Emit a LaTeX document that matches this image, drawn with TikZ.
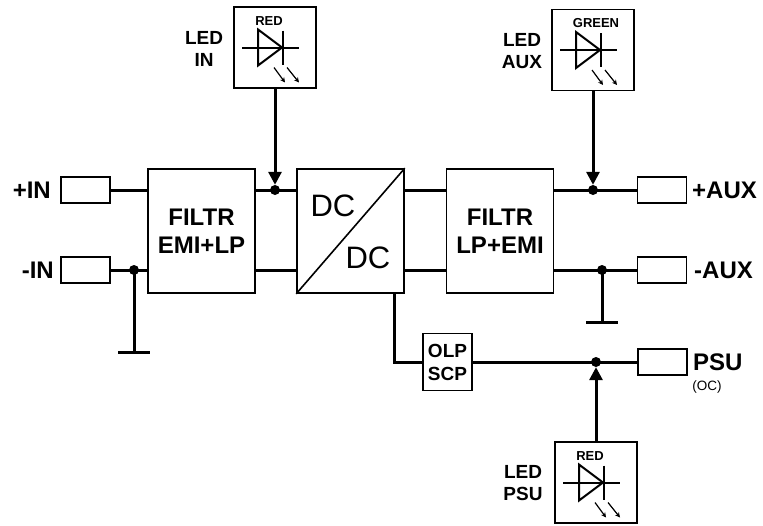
\documentclass[tikz,border=0pt]{standalone}
\usepackage{fontspec}
\setmainfont{Liberation Sans}
\usetikzlibrary{arrows.meta}
\tikzset{>=stealth}
\tikzset{
  block/.style={draw, line width=1.6pt, inner sep=0pt, minimum width=107pt, minimum height=124pt,
    align=center, font=\bfseries\fontsize{24}{28}\selectfont},
  term/.style={draw, line width=1.3pt, inner sep=0pt, minimum width=49pt, minimum height=26pt},
  ledbox/.style={draw, line width=1.6pt, inner sep=0pt, minimum width=82pt, minimum height=81pt},
  dot/.style={circle, fill, inner sep=0pt, minimum size=10pt},
  wire/.style={line width=3pt},
  sig/.style={line width=3pt, -{Triangle[length=13pt,width=13pt]}},
  lbl/.style={font=\bfseries\fontsize{24}{26}\selectfont, inner sep=0pt},
  ledlbl/.style={font=\bfseries\fontsize{19}{22}\selectfont, align=center, inner sep=0pt},
  led/.pic={
    \draw[line width=2pt] (-33,0) -- (24,0);
    \draw[line width=2pt] (-17,-18) -- (-17,18) -- (7,0) -- cycle;
    \draw[line width=2.4pt] (8,-17) -- (8,17);
    \draw[line width=1.2pt, -{Stealth[length=5pt,width=5pt]}] (-1,20) -- (10,35);
    \draw[line width=1.2pt, -{Stealth[length=5pt,width=5pt]}] (12,20) -- (24,35);
    \node[font=\bfseries\fontsize{13}{14}\selectfont, inner sep=0pt] at (#1) {\ledcolor};
  }
}
\newcommand{\ledcolor}{RED}

\begin{document}
\begin{tikzpicture}[x=1pt, y=-1pt]
    \useasboundingbox (0,0) rectangle (763,525);
    \node[block] (filt1) at (201.5,231) {FILTR\\EMI+LP};
    \node[block] (dcdc) at (350.5,231) {};
    \node[block] (filt2) at (500,231) {FILTR\\LP+EMI};
    \node[draw, line width=1.6pt, inner sep=0pt, minimum width=49pt, minimum height=57pt, align=center,
      font=\bfseries\fontsize{19}{23}\selectfont] (olp) at (447.5,362) {OLP\\SCP};
    \draw[line width=1.6pt] (dcdc.south west) -- (dcdc.north east);
    \node[font=\fontsize{31}{31}\selectfont, inner sep=0pt] (dcin) at (333,206) {DC};
    \node[font=\fontsize{31}{31}\selectfont, inner sep=0pt] (dcout) at (368,258) {DC};

    \node[term] (inP) at (85.5,190) {};
    \node[term] (inN) at (85.5,270) {};
    \node[term] (auxP) at (662,190) {};
    \node[term] (auxN) at (662,270) {};
    \node[term] (psu) at (662.5,362) {};
    \node[lbl, anchor=east] (tinP) at (51,190) {+IN};
    \node[lbl, anchor=east] (tinN) at (54,270) {-IN};
    \node[lbl, anchor=west] (tauxP) at (692,190) {+AUX};
    \node[lbl, anchor=west] (tauxN) at (694,270) {-AUX};
    \node[lbl, anchor=west] (tpsu) at (693,362) {PSU};
    \node[font=\fontsize{13.5}{14}\selectfont, inner sep=0pt] (toc) at (707,387) {(OC)};

    \node[dot] (jin) at (275,190) {};
    \node[dot] (jinN) at (134,270) {};
    \node[dot] (jaux) at (593,190) {};
    \node[dot] (jauxN) at (602,270) {};
    \node[dot] (jpsu) at (596,362) {};
    \coordinate (gin) at (134,352);
    \coordinate (gaux) at (602,322);
    \coordinate (dco) at (394,293);

    \node[ledbox] (ledin) at (275,47.5) {};
    \node[ledbox] (ledaux) at (593,50) {};
    \node[ledbox] (ledpsu) at (596,482.5) {};
    \pic at (ledin) {led={-6,-26}};
    \renewcommand{\ledcolor}{GREEN}
    \pic at (ledaux) {led={3,-27}};
    \renewcommand{\ledcolor}{RED}
    \pic at (ledpsu) {led={-6,-26}};
    \node[ledlbl] (tledin) at (204,49) {LED\\IN};
    \node[ledlbl] (tledaux) at (522,51) {LED\\AUX};
    \node[ledlbl] (tledpsu) at (523,483) {LED\\PSU};

    \draw[wire] (inP.east) -- (inP.east -| filt1.west);
    \draw[wire] (inN.east) -- (inN.east -| filt1.west);
    \draw[wire] (filt1.east |- jin) -- (jin.center) -- (jin -| dcdc.west);
    \draw[wire] (filt1.east |- inN) -- (dcdc.west |- inN);
    \draw[wire] (dcdc.east |- jin) -- (filt2.west |- jin);
    \draw[wire] (dcdc.east |- inN) -- (filt2.west |- inN);
    \draw[wire] (filt2.east |- jaux) -- (auxP.west);
    \draw[wire] (filt2.east |- jauxN) -- (auxN.west);
    \draw[wire] (jinN.center) -- (gin);
    \draw[wire] ([xshift=-16pt]gin) -- ([xshift=16pt]gin);
    \draw[wire] (jauxN.center) -- (gaux);
    \draw[wire] ([xshift=-16pt]gaux) -- ([xshift=16pt]gaux);
    \draw[wire] (dco) |- (olp.west);
    \draw[wire] (olp.east) -- (psu.west);
    \draw[sig] (ledin) -- (jin);
    \draw[sig] (ledaux) -- (jaux);
    \draw[sig] (ledpsu) -- (jpsu);
\end{tikzpicture}
\end{document}
